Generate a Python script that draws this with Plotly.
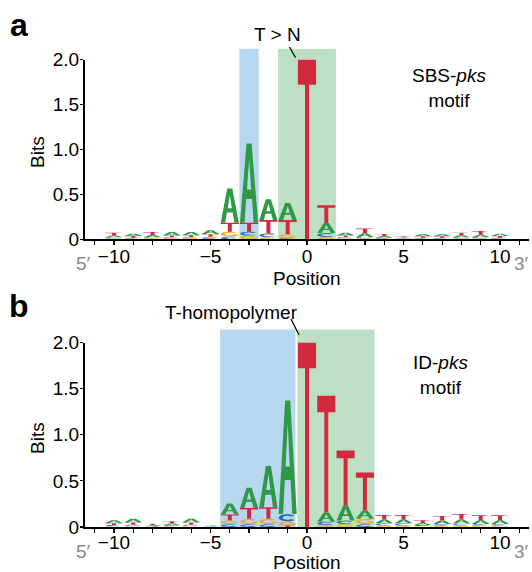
import numpy as np
import plotly.graph_objects as go

# ---------------- data ----------------
positions = list(range(-10, 11))
x_ticks = [-10, -5, 0, 5, 10]
x_tick_text = ["\u221210", "\u22125", "0", "5", "10"]
y_ticks = [0, 0.5, 1.0, 1.5, 2.0]
y_tick_text = ["0", "0.5", "1.0", "1.5", "2.0"]

# Panel a: SBS-pks motif (bits), positions -10..10
sbs_A = [0.020, 0.025, 0.025, 0.040, 0.036, 0.045, 0.380, 0.880, 0.230, 0.190, 0.0,
         0.110, 0.032, 0.045, 0.018, 0.009, 0.023, 0.022, 0.022, 0.030, 0.027]
sbs_C = [0.012, 0.010, 0.012, 0.012, 0.012, 0.012, 0.030, 0.045, 0.047, 0.012, 0.0,
         0.045, 0.012, 0.012, 0.010, 0.006, 0.010, 0.010, 0.012, 0.012, 0.010]
sbs_G = [0.010, 0.008, 0.010, 0.010, 0.010, 0.015, 0.055, 0.040, 0.020, 0.043, 0.0,
         0.025, 0.010, 0.010, 0.008, 0.005, 0.008, 0.008, 0.010, 0.010, 0.008]
sbs_T = [0.030, 0.018, 0.033, 0.020, 0.022, 0.030, 0.100, 0.100, 0.148, 0.160, 2.0,
         0.200, 0.020, 0.052, 0.023, 0.011, 0.015, 0.016, 0.030, 0.041, 0.018]

# Panel b: ID-pks motif (bits), positions -10..10
id_A = [0.030, 0.040, 0.010, 0.020, 0.040, 0.006, 0.120, 0.220, 0.445, 1.230, 0.0,
        0.100, 0.160, 0.090, 0.040, 0.040, 0.020, 0.038, 0.045, 0.040, 0.040]
id_C = [0.012, 0.015, 0.006, 0.010, 0.015, 0.005, 0.030, 0.030, 0.030, 0.080, 0.0,
        0.037, 0.040, 0.030, 0.025, 0.025, 0.013, 0.020, 0.022, 0.020, 0.020]
id_G = [0.010, 0.010, 0.005, 0.008, 0.010, 0.004, 0.040, 0.060, 0.060, 0.045, 0.0,
        0.020, 0.030, 0.060, 0.015, 0.015, 0.010, 0.012, 0.015, 0.013, 0.013]
id_T = [0.020, 0.025, 0.015, 0.025, 0.025, 0.008, 0.065, 0.115, 0.125, 0.015, 2.0,
        1.265, 0.600, 0.410, 0.050, 0.050, 0.030, 0.050, 0.058, 0.055, 0.055]

sbs_blue = [-3.5, -2.5]
sbs_green = [-1.5, 1.5]
id_blue = [-4.5, -0.6]
id_green = [-0.5, 3.5]
sbs_shade_top = 2.12
id_shade_top = 2.14

# ---------------- styling ----------------
bases = ["A", "C", "G", "T"]
colors = {"A": "#2f9a45", "C": "#2f6db5", "G": "#f2a922", "T": "#d4283c"}
BLUE_SHADE = "#b7d6ef"
GREEN_SHADE = "#bde0c4"
FONT = "Liberation Sans, Arial, Helvetica, sans-serif"
LETTER_W = 0.94


def arc(cx, cy, rx, ry, a0, a1, n=22):
    t = np.radians(np.linspace(a0, a1, n))
    return list(zip(cx + rx * np.cos(t), cy + ry * np.sin(t)))


GLYPHS = {
    "A": [
        [(0, 0), (0.36, 1), (0.64, 1), (1, 0), (0.75, 0), (0.66, 0.30), (0.34, 0.30), (0.25, 0)],
        [(0.385, 0.42), (0.615, 0.42), (0.5, 0.80)],
    ],
    "T": [
        [(0, 1), (1, 1), (1, 0.86), (0.61, 0.86), (0.61, 0), (0.39, 0), (0.39, 0.86), (0, 0.86)],
    ],
    "C": [
        arc(0.5, 0.5, 0.5, 0.5, 40, 320) + arc(0.5, 0.5, 0.28, 0.28, 320, 40),
    ],
    "G": [
        arc(0.5, 0.5, 0.5, 0.5, 40, 360) + [(1.0, 0.5), (0.55, 0.5), (0.55, 0.38), (0.78, 0.38)]
        + arc(0.5, 0.5, 0.28, 0.28, 330, 40),
    ],
}


def logo_traces(values, xa, ya):
    xs = {b: [] for b in bases}
    ys = {b: [] for b in bases}
    for i, p in enumerate(positions):
        stack = sorted([(values[b][i], b) for b in bases])
        y0 = 0.0
        for h, b in stack:
            if h <= 0:
                continue
            for ring in GLYPHS[b]:
                for (u, v) in ring:
                    xs[b].append(p + (u - 0.5) * LETTER_W)
                    ys[b].append(y0 + v * h)
                xs[b].append(None)
                ys[b].append(None)
            y0 += h
    out = []
    for b in bases:
        out.append(go.Scatter(
            x=xs[b], y=ys[b], mode="lines", fill="toself",
            fillcolor=colors[b], line=dict(width=0, color=colors[b]),
            xaxis=xa, yaxis=ya, hoverinfo="skip", showlegend=False,
        ))
    return out


fig = go.Figure()
for tr in logo_traces({"A": sbs_A, "C": sbs_C, "G": sbs_G, "T": sbs_T}, "x", "y"):
    fig.add_trace(tr)
for tr in logo_traces({"A": id_A, "C": id_C, "G": id_G, "T": id_T}, "x2", "y2"):
    fig.add_trace(tr)

# page pixels (body margin removed via post_script below)
W, H = 532, 572
ML, MR = 85, 3
PW = W - ML - MR


def px(x):
    return (x - ML) / PW


def py(y):
    return 1 - y / H


dom_a = [py(239.3), py(59.5)]
dom_b = [py(527.0), py(342.5)]

shapes = []
for xref, yref, rng, top, col in [
    ("x", "y domain", sbs_blue, sbs_shade_top, BLUE_SHADE),
    ("x", "y domain", sbs_green, sbs_shade_top, GREEN_SHADE),
    ("x2", "y2 domain", id_blue, id_shade_top, BLUE_SHADE),
    ("x2", "y2 domain", id_green, id_shade_top, GREEN_SHADE),
]:
    shapes.append(dict(type="rect", xref=xref, yref=yref, x0=rng[0], x1=rng[1],
                       y0=0, y1=top / 2.0, fillcolor=col, line=dict(width=0), layer="below"))

# annotation leader lines
shapes.append(dict(type="line", xref="paper", yref="paper", x0=px(289.5), y0=py(47.0),
                   x1=px(295.5), y1=py(57.5), line=dict(color="black", width=1.3)))
shapes.append(dict(type="line", xref="paper", yref="paper", x0=px(291.0), y0=py(319.0),
                   x1=px(299.0), y1=py(335.0), line=dict(color="black", width=1.3)))

ann = []


def add_text(x, y, text, size=19, color="black", angle=0):
    ann.append(dict(x=px(x), y=py(y), xref="paper", yref="paper", text=text,
                    showarrow=False, xanchor="center", yanchor="middle",
                    textangle=angle,
                    font=dict(size=size, color=color, family=FONT)))


add_text(19, 25, "<b>a</b>", size=32)
add_text(277, 34, "T > N")
add_text(449, 88, "SBS-<i>pks</i><br>motif")
add_text(37, 152, "Bits", angle=-90)
add_text(307, 278, "Position")
add_text(83, 263, "5\u2032", color="#8a8a8a")
add_text(521, 263, "3\u2032", color="#8a8a8a")

add_text(19, 306, "<b>b</b>", size=32)
add_text(231, 312, "T-homopolymer")
add_text(440, 375, "ID-<i>pks</i><br>motif")
add_text(37, 438, "Bits", angle=-90)
add_text(307, 562, "Position")
add_text(83, 551, "5\u2032", color="#8a8a8a")
add_text(521, 551, "3\u2032", color="#8a8a8a")


def xaxis_cfg(anchor, standoff):
    return dict(
        range=[-11.5, 11.5], domain=[0, 1], anchor=anchor,
        showline=True, linecolor="black", linewidth=2,
        ticks="outside", ticklen=4, tickwidth=1.2, tickcolor="black",
        tickvals=x_ticks, ticktext=x_tick_text, ticklabelstandoff=standoff,
        tickfont=dict(size=19, family=FONT, color="black"),
        minor=dict(tickmode="linear", tick0=0, dtick=1, ticks="outside",
                   ticklen=4, tickwidth=1.2, tickcolor="black"),
        showgrid=False, zeroline=False, fixedrange=True, automargin=False,
    )


def yaxis_cfg(anchor, dom):
    return dict(
        range=[0, 2.0], domain=dom, anchor=anchor,
        showline=True, linecolor="black", linewidth=2,
        ticks="outside", ticklen=3, tickwidth=1.2, tickcolor="black",
        tickvals=y_ticks, ticktext=y_tick_text, ticklabelstandoff=-3,
        tickfont=dict(size=19, family=FONT, color="black"),
        showgrid=False, zeroline=False, fixedrange=True, automargin=False,
    )


fig.update_layout(
    width=W, height=H,
    margin=dict(l=ML, r=MR, t=0, b=0),
    paper_bgcolor="white", plot_bgcolor="rgba(0,0,0,0)",
    xaxis=xaxis_cfg("y", -5), yaxis=yaxis_cfg("x", dom_a),
    xaxis2=xaxis_cfg("y2", -7), yaxis2=yaxis_cfg("x2", dom_b),
    shapes=shapes, annotations=ann, showlegend=False,
    font=dict(family=FONT, size=19, color="black"),
)

fig.write_html("out.html",
               config={"displayModeBar": False, "staticPlot": True},
               post_script="document.body.style.margin='0px';document.body.style.overflow='hidden';")
